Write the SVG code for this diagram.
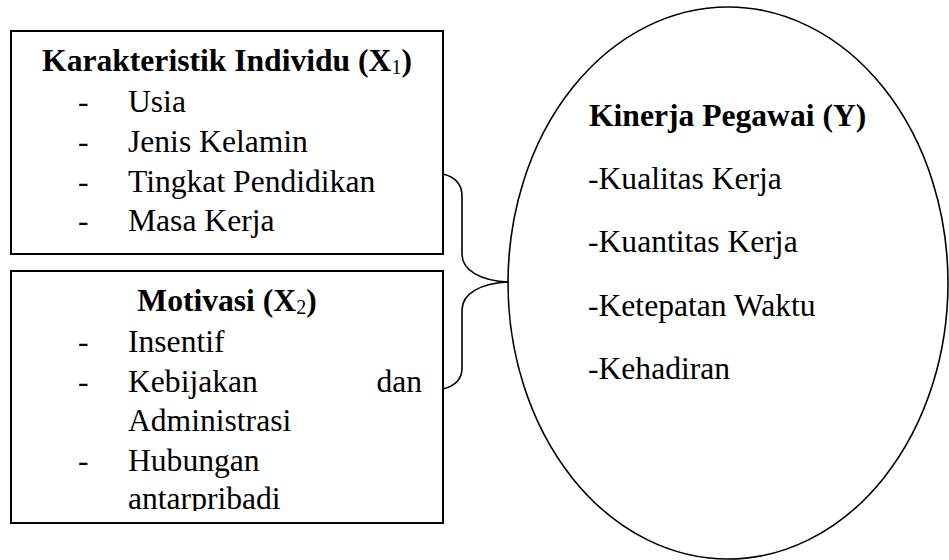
<svg xmlns="http://www.w3.org/2000/svg" width="949" height="560" viewBox="0 0 949 560">
<style>
.box{fill:#fff;stroke:#000;stroke-width:2}
.ell{fill:#fff;stroke:#000;stroke-width:1.6}
.con{fill:none;stroke:#000;stroke-width:1.6}
text{font-family:"Liberation Serif","Times New Roman",serif;font-size:31.6px;fill:#000}
.b{font-weight:bold}
.sub{font-size:20px;font-weight:normal}
</style>
<defs>
<clipPath id="clip2"><rect x="11" y="271" width="432" height="240"/></clipPath>
</defs>
<g id="node-y">
<ellipse class="ell" cx="728" cy="283" rx="220" ry="276"/>
<text class="b" x="589" y="126">Kinerja Pegawai (Y)</text>
<text x="588" y="189">-Kualitas Kerja</text>
<text x="588" y="252">-Kuantitas Kerja</text>
<text x="588" y="316">-Ketepatan Waktu</text>
<text x="588" y="379">-Kehadiran</text>
</g>
<g id="node-x1">
<rect class="box" x="11" y="31" width="432" height="223"/>
<text class="b" text-anchor="middle" x="227" y="71">Karakteristik Individu (X<tspan class="sub" dy="3">1</tspan><tspan dy="-3">)</tspan></text>
<text x="78" y="112">-</text>
<text x="128" y="112">Usia</text>
<text x="78" y="152">-</text>
<text x="128" y="152">Jenis Kelamin</text>
<text x="78" y="192">-</text>
<text x="128" y="192">Tingkat Pendidikan</text>
<text x="78" y="231">-</text>
<text x="128" y="231">Masa Kerja</text>
</g>
<g id="node-x2">
<rect class="box" x="11" y="271" width="432" height="252"/>
<text class="b" text-anchor="middle" x="227" y="311">Motivasi (X<tspan class="sub" dy="3">2</tspan><tspan dy="-3">)</tspan></text>
<text x="78" y="352">-</text>
<text x="128" y="352">Insentif</text>
<text x="78" y="392">-</text>
<text x="128" y="392">Kebijakan</text>
<text text-anchor="end" x="422" y="392">dan</text>
<text x="128" y="431">Administrasi</text>
<text x="78" y="471">-</text>
<text x="128" y="471">Hubungan</text>
<g clip-path="url(#clip2)">
<text x="128" y="509">antarpribadi</text>
</g>
</g>
<g id="connectors">
<path class="con" d="M443,174 C455,177 462,184 462,196 L462,254 C462,270 480,281 509,282"/>
<path class="con" d="M509,282 C480,283 462,294 462,310 L462,368 C462,380 455,386 443,389"/>
</g>
</svg>
